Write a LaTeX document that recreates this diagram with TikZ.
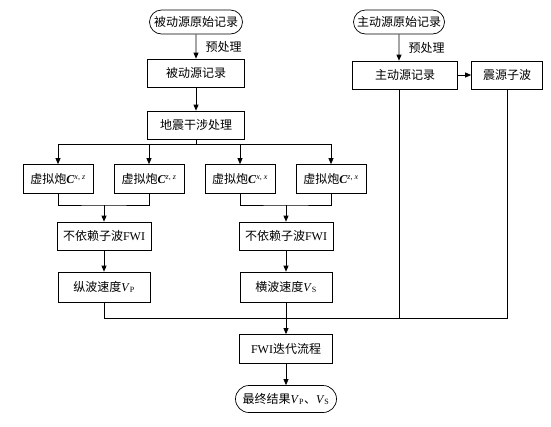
\documentclass[tikz,border=0pt]{standalone}
\usepackage{fontspec}
\setmainfont{Liberation Serif}
\newfontfamily\cjk{Noto Sans CJK SC}
\usetikzlibrary{shapes.misc,arrows.meta,positioning}
\newcommand{\zh}[1]{{\cjk #1}}
\newcommand{\vshot}[2]{\zh{虚拟炮}\textbf{\textit{C}}\textsuperscript{\textit{#1}, \textit{#2}}}

\begin{document}
\begin{tikzpicture}[
    x=1pt, y=-1pt,
    every node/.style={font=\fontsize{12}{14}\selectfont},
    box/.style={rectangle, draw, line width=0.7pt, minimum height=28pt, inner sep=2pt, text centered},
    terminal/.style={rounded rectangle, draw, line width=0.7pt, minimum height=24pt, inner sep=2pt, text centered},
    arrow/.style={-{Triangle[length=6pt,width=5pt]}, line width=0.7pt},
    line/.style={line width=0.7pt}
]
\useasboundingbox (0,0) rectangle (551,426);

% passive source branch
\node[terminal, minimum width=97pt] (praw) at (196,22) {\zh{被动源原始记录}};
\node[box, minimum width=97pt] (prec) at (196,73) {\zh{被动源记录}};
\node[box, minimum width=97pt] (interf) at (196,125) {\zh{地震干涉处理}};

\node[box, minimum width=70pt, minimum height=29pt] (cxz) at (58,179) {\vshot{x}{z}};
\node[box, minimum width=70pt, minimum height=29pt] (czz) at (149,179) {\vshot{z}{z}};
\node[box, minimum width=70pt, minimum height=29pt] (cxx) at (240,179) {\vshot{x}{x}};
\node[box, minimum width=70pt, minimum height=29pt] (czx) at (331,179) {\vshot{z}{x}};

\node[box, minimum width=94pt] (fwip) at (104,236) {\zh{不依赖子波}FWI};
\node[box, minimum width=94pt] (fwis) at (286,236) {\zh{不依赖子波}FWI};
\node[box, minimum width=92pt, minimum height=30pt] (vp) at (104,287) {\zh{纵波速度}\textit{V}\textsubscript{P}};
\node[box, minimum width=92pt, minimum height=30pt] (vs) at (286,287) {\zh{横波速度}\textit{V}\textsubscript{S}};

\node[box, minimum width=93pt, minimum height=29pt] (fwi) at (286,349) {FWI\zh{迭代流程}};
\node[terminal, minimum width=105pt, minimum height=27pt] (final) at (286,399) {\zh{最终结果}\textit{V}\textsubscript{P}\zh{、}\textit{V}\textsubscript{S}};

% active source branch
\node[terminal, minimum width=95pt] (araw) at (399,22) {\zh{主动源原始记录}};
\node[box, minimum width=105pt] (arec) at (405,75) {\zh{主动源记录}};
\node[box, minimum width=71pt] (wavelet) at (507,75) {\zh{震源子波}};

\coordinate (split) at (196,144);
\coordinate (pjoin) at (104,205);
\coordinate (sjoin) at (286,205);
\coordinate (collect) at (286,318);

\draw[arrow] (praw) -- node[right=6pt] {\zh{预处理}} (prec);
\draw[arrow] (prec) -- (interf);
\draw[line] (interf) -- (split);
\foreach \v in {cxz,czz,cxx,czx}
    \draw[arrow] (split) -| (\v.north);

\draw[line] (cxz.south) |- (pjoin) -| (czz.south);
\draw[line] (cxx.south) |- (sjoin) -| (czx.south);
\draw[arrow] (pjoin) -- (fwip.north);
\draw[arrow] (sjoin) -- (fwis.north);
\draw[arrow] (fwip) -- (vp);
\draw[arrow] (fwis) -- (vs);

\draw[arrow] (araw) -- node[right=6pt] {\zh{预处理}} (araw.south |- arec.north);
\draw[arrow] (arec) -- (wavelet);

\draw[line] (vp.south) |- (wavelet.south |- collect) -- (wavelet.south);
\draw[line] (araw.south |- arec.south) -- (araw.south |- collect);
\draw[arrow] (vs) -- (fwi);
\draw[arrow] (fwi) -- (final);

\end{tikzpicture}
\end{document}
